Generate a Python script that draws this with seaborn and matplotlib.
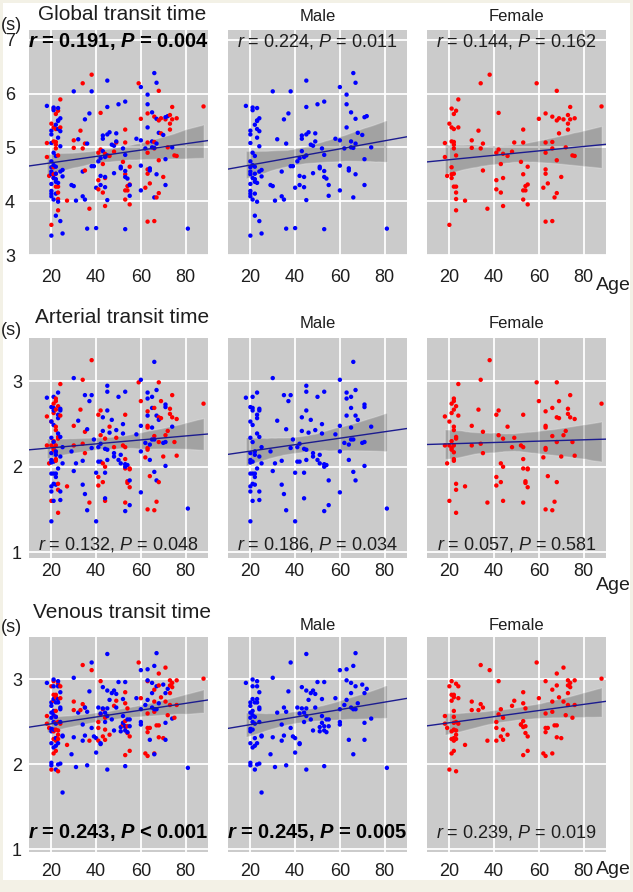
import numpy as np
import pandas as pd
import seaborn as sns
import matplotlib.pyplot as plt
from matplotlib.patches import Rectangle

# ---------------- data ----------------
# Global transit time
m1_age = [18, 21, 21, 23, 24, 23, 23, 22, 23, 24, 20, 20, 23, 20, 24, 21, 22, 20, 21, 20, 20, 20,
          22, 22, 21, 22, 22, 23, 20, 25, 24, 25, 20, 20, 20, 22, 21, 23, 22, 24, 20, 25,
          30, 38, 45, 45, 50, 53, 37, 35, 32, 36, 46, 45, 43, 43, 49, 49, 47, 48, 52,
          43, 44, 42, 45, 53, 41, 38, 39, 34, 29, 30, 42, 44, 42, 44, 40, 48, 51, 51, 53, 53, 54,
          55, 55, 34, 35, 31, 45, 36, 40, 53,
          58, 60, 63, 63, 65, 67, 71, 72, 66, 67, 63, 68, 70, 60, 65, 65, 66, 74, 62, 67, 71,
          60, 64, 64, 67, 71, 60, 66, 81]
m1_val = [5.77, 5.74, 5.69, 5.73, 5.54, 5.50, 5.49, 5.42, 5.34, 5.30, 5.31, 5.24, 5.18, 5.08, 5.02,
          4.90, 4.84, 4.74, 4.67, 4.63, 4.55, 4.50,
          4.64, 4.51, 4.43, 4.41, 4.36, 4.34, 4.32, 4.58, 4.55, 4.46, 4.19, 4.14, 4.09, 4.14, 4.03, 3.99,
          3.73, 3.63, 3.36, 3.40,
          6.04, 6.04, 6.24, 5.75, 5.80, 5.85, 5.63, 5.52, 5.15, 5.07, 5.28, 5.24, 5.22, 5.16, 5.26, 5.11,
          5.05, 5.03, 4.98,
          4.93, 4.82, 4.80, 4.85, 4.86, 4.74, 4.65, 4.65, 4.55, 4.30, 4.28, 4.47, 4.45, 4.30, 4.26, 4.25,
          4.52, 4.64, 4.61, 4.56, 4.45, 4.42,
          4.30, 4.10, 4.09, 4.03, 4.01, 4.02, 3.49, 3.50, 3.48,
          5.16, 6.12, 5.98, 5.80, 5.65, 5.53, 5.56, 5.58, 6.38, 6.20, 5.37, 5.27, 5.23, 5.13, 5.11, 5.00,
          4.99, 5.00, 4.98, 5.07, 4.78,
          4.66, 4.61, 4.57, 4.50, 4.30, 4.20, 4.07, 3.49]
f1_age = [38, 34, 59, 68, 24, 21, 23, 22, 42, 20, 21, 22, 24, 33, 53,
          60, 63, 66, 68, 69, 71, 73, 74, 73, 74, 76, 73, 69, 88,
          18, 21, 22, 22, 22, 23, 21, 19, 21, 22, 21, 18, 30, 30, 34, 35, 35,
          42, 41, 44, 46, 48, 49, 43, 53, 52, 55, 53, 63, 66, 63, 66, 72, 68, 75, 76, 63, 63, 70,
          22, 23, 23, 23, 27, 23, 20, 41, 44, 41, 43, 44, 37, 54, 55, 53, 54, 53, 55, 64, 62, 68, 67,
          63, 66]
f1_val = [6.35, 6.19, 6.19, 6.05, 5.89, 5.72, 5.68, 5.62, 5.64, 5.44, 5.37, 5.34, 5.37, 5.31, 5.33,
          5.53, 5.63, 5.57, 5.50, 5.54, 5.52, 5.60, 5.75, 5.44, 5.52, 5.54, 5.33, 5.26, 5.76,
          5.08, 5.11, 5.10, 5.05, 4.98, 4.85, 4.63, 4.47, 4.50, 4.51, 4.43, 4.82, 5.13, 4.99, 4.98, 5.07, 4.57,
          4.96, 4.90, 4.88, 4.84, 4.92, 5.09, 4.69, 5.09, 4.73, 4.64, 4.50, 5.09, 5.10, 4.90, 4.98, 5.00,
          4.76, 4.85, 4.84, 4.59, 4.51, 4.45,
          4.27, 4.27, 4.16, 4.04, 4.01, 3.83, 3.56, 4.39, 4.43, 4.22, 4.16, 3.91, 3.86, 4.28, 4.31, 4.20,
          4.20, 4.03, 3.94, 4.33, 4.25, 4.15, 4.07,
          3.62, 3.63]

# Arterial transit time
m2_age = [66, 30, 60, 18, 21, 23, 20, 21, 21, 24, 24, 23, 23, 20, 21,
          35, 38, 37, 45, 45, 50, 53, 32, 36, 43, 45, 47, 43, 46, 49, 52, 52,
          63, 63, 65, 67, 65, 71, 71, 63, 67, 68, 65, 74, 60, 58, 62, 64, 65, 66, 70, 71,
          20, 24, 23, 21, 25, 22, 20, 22, 20, 20, 21, 24, 23, 25,
          20, 21, 22, 22, 21, 22, 20, 24, 20, 21, 24, 20,
          29, 31, 30, 34, 39, 38, 41, 42, 44, 45, 42, 41, 45, 44,
          40, 34, 35, 36, 40, 44, 48, 48, 51, 50, 51, 53, 54, 53, 55, 55, 53,
          60, 64, 71, 66, 67, 60, 81]
m2_val = [3.23, 3.04, 3.02, 2.81, 2.82, 2.87, 2.70, 2.69, 2.66, 2.68, 2.66, 2.61, 2.57, 2.53, 2.49,
          2.84, 2.84, 2.77, 2.95, 2.88, 2.82, 2.88, 2.54, 2.44, 2.58, 2.66, 2.55, 2.42, 2.40, 2.43, 2.50, 2.39,
          2.87, 2.80, 2.82, 2.90, 2.69, 2.73, 2.70, 2.60, 2.60, 2.55, 2.46, 2.47, 2.48, 2.38, 2.28, 2.26,
          2.32, 2.32, 2.28, 2.29,
          2.34, 2.35, 2.39, 2.29, 2.23, 2.18, 2.16, 2.14, 2.08, 2.05, 2.06, 2.12, 1.98, 2.04,
          1.92, 1.92, 1.92, 1.88, 1.80, 1.79, 1.77, 1.71, 1.71, 1.60, 1.61, 1.36,
          2.18, 2.04, 1.95, 2.07, 2.32, 2.22, 2.23, 2.27, 2.21, 2.20, 2.06, 2.06, 2.08, 1.93,
          1.93, 1.79, 1.68, 1.49, 1.36, 1.63, 2.16, 2.12, 2.14, 2.08, 2.04, 2.03, 2.02, 2.00, 1.84, 1.55, 1.48,
          2.18, 2.08, 2.01, 1.94, 1.84, 1.70, 1.51]
f2_age = [38, 34, 59, 68, 24, 22, 22, 21, 23, 21, 22, 24, 18, 20, 22, 22,
          33, 42, 41, 46, 30, 35, 53,
          60, 63, 66, 69, 74, 73, 73, 74, 76, 68, 69, 63, 63, 72, 71, 88,
          23, 23, 21, 18, 22, 21, 21, 20, 22, 22, 22, 19, 30, 34, 35,
          42, 44, 49, 48, 52, 53, 66, 68, 63, 63, 75, 62, 70, 76,
          43, 44, 41, 43, 41, 44, 37, 53, 53, 55, 55, 54, 54, 55, 53,
          64, 68, 67, 63, 66, 23, 23, 27, 20, 23]
f2_val = [3.25, 3.02, 2.99, 2.99, 2.97, 2.80, 2.77, 2.74, 2.71, 2.63, 2.67, 2.60, 2.59, 2.53, 2.47, 2.43,
          2.67, 2.66, 2.61, 2.47, 2.48, 2.41, 2.61,
          2.77, 2.65, 2.69, 2.77, 2.84, 2.68, 2.62, 2.58, 2.56, 2.58, 2.57, 2.48, 2.46, 2.42, 2.37, 2.74,
          2.35, 2.33, 2.30, 2.25, 2.25, 2.22, 2.20, 2.25, 2.17, 2.09, 2.07, 2.04, 2.25, 2.27, 2.16,
          2.37, 2.33, 2.34, 2.23, 2.25, 2.23, 2.36, 2.29, 2.22, 2.20, 2.29, 2.11, 2.12, 2.13,
          2.04, 2.00, 1.88, 1.82, 1.78, 1.60, 1.58, 2.09, 1.98, 1.98, 1.97, 1.83, 1.81, 1.76, 1.58,
          1.89, 1.82, 1.59, 1.50, 1.49, 1.80, 1.73, 1.77, 1.60, 1.46]

# Venous transit time
m3_age = [45, 67, 38, 66, 63, 60, 18, 21, 21, 23, 23, 24, 30,
          63, 65, 67, 70, 72, 71, 65, 63, 62, 65, 66, 67, 68, 74, 71, 71, 64, 66,
          50, 53, 43, 45, 47, 49, 48, 46, 52, 58, 41, 43, 45, 49, 37,
          35, 32, 36, 34, 42, 44, 45, 44, 47, 52, 52, 53, 54, 55, 51, 55, 53, 54, 48, 51, 60, 60, 60,
          20, 20, 22, 23, 24, 24, 20, 21, 20, 22, 21, 22, 24, 20, 21, 20,
          21, 21, 23, 22, 25, 25, 20, 23, 21, 22,
          30, 34, 35, 38, 39, 40, 42, 42, 40, 29, 20, 20, 22, 23, 24, 25, 31, 36, 45, 53, 81]
m3_val = [3.30, 3.31, 3.20, 3.16, 3.12, 3.11, 2.96, 3.00, 2.92, 2.98, 2.92, 2.85, 3.02,
          2.99, 2.96, 2.92, 2.94, 2.89, 2.84, 2.84, 2.76, 2.70, 2.67, 2.65, 2.65, 2.72, 2.54, 2.49, 2.29,
          2.29, 2.12,
          2.97, 2.97, 2.91, 2.87, 2.84, 2.83, 2.87, 2.76, 2.77, 2.78, 2.67, 2.66, 2.66, 2.67, 2.86,
          2.67, 2.61, 2.62, 2.47, 2.60, 2.61, 2.57, 2.50, 2.53, 2.57, 2.49, 2.45, 2.53, 2.53, 2.44, 2.45,
          2.40, 2.38, 2.40, 2.39, 2.50, 2.47, 2.65,
          2.73, 2.69, 2.73, 2.73, 2.67, 2.65, 2.61, 2.58, 2.55, 2.56, 2.50, 2.48, 2.50, 2.42, 2.41, 2.39,
          2.77, 2.63, 2.77, 2.31, 2.34, 2.33, 2.25, 2.25, 2.20, 2.22,
          2.32, 2.28, 2.34, 2.43, 2.33, 2.31, 2.25, 2.24, 2.14, 2.12, 2.02, 1.99, 1.94, 2.00, 2.01, 1.67,
          1.97, 1.99, 1.94, 1.98, 1.96]
f3_age = [34, 38, 59, 71, 42, 63, 68, 73, 76, 88, 74, 73, 74, 68, 66, 53, 73,
          21, 20, 23, 24, 21, 22, 22, 24, 21,
          30, 34, 35, 33, 30, 42, 43, 44, 48, 49, 53, 54, 52, 53,
          60, 66, 69, 71, 73, 76, 63, 66, 72, 75,
          22, 18, 22, 23, 22, 18, 19, 23, 21, 22, 24,
          23, 22, 21, 23, 22, 27, 22, 21, 20, 23,
          41, 41, 44, 46, 43, 44, 41, 37, 52, 53, 54, 54, 55, 55, 53,
          63, 64, 67, 68, 63, 68, 70, 62, 63, 66]
f3_val = [3.17, 3.11, 3.20, 3.14, 2.98, 2.98, 3.07, 2.99, 2.99, 3.01, 2.96, 2.93, 2.91, 2.93, 2.88, 2.85, 2.84,
          2.98, 2.92, 2.95, 2.92, 2.82, 2.82, 2.79, 2.78, 2.75,
          2.74, 2.71, 2.67, 2.64, 2.64, 2.59, 2.65, 2.55, 2.69, 2.75, 2.72, 2.66, 2.47, 2.51,
          2.78, 2.74, 2.79, 2.74, 2.70, 2.70, 2.60, 2.62, 2.58, 2.55,
          2.63, 2.57, 2.56, 2.50, 2.49, 2.48, 2.43, 2.40, 2.39, 2.41, 2.48,
          2.35, 2.31, 2.30, 2.30, 2.28, 2.23, 2.16, 2.13, 1.94, 1.92,
          2.50, 2.43, 2.41, 2.35, 2.33, 2.29, 2.28, 2.28, 2.47, 2.44, 2.45, 2.37, 2.33, 2.16, 2.11,
          2.43, 2.43, 2.46, 2.46, 2.38, 2.32, 2.31, 2.13, 2.10, 2.13]

row_titles = ["Global transit time", "Arterial transit time", "Venous transit time"]
col_titles = ["", "Male", "Female"]
stats = [["r = 0.191, P = 0.004", "r = 0.224, P = 0.011", "r = 0.144, P = 0.162"],
         ["r = 0.132, P = 0.048", "r = 0.186, P = 0.034", "r = 0.057, P = 0.581"],
         ["r = 0.243, P < 0.001", "r = 0.245, P = 0.005", "r = 0.239, P = 0.019"]]
bold = [[True, False, False], [False, False, False], [True, True, False]]
age_ticks = [20, 40, 60, 80]

# ---------------- style ----------------
sns.set_style("darkgrid", {"axes.facecolor": "#cbcbcb", "grid.color": "white"})
plt.rcParams["font.family"] = ["Liberation Sans", "DejaVu Sans"]
plt.rcParams["mathtext.fontset"] = "custom"
plt.rcParams["mathtext.rm"] = "Liberation Sans"
plt.rcParams["mathtext.it"] = "Liberation Sans:italic"
plt.rcParams["mathtext.bf"] = "Liberation Sans:bold"
plt.rcParams["mathtext.bfit"] = "Liberation Sans:italic:bold"

txt = "#1e1e1e"
palette = {"M": "#0000ff", "F": "#ff0000"}

W, H = 633, 892
fig = plt.figure(figsize=(W / 100, H / 100), dpi=100)
fig.patch.set_facecolor("#f3f1e6")
fig.add_artist(Rectangle((3 / W, 12 / H), 627 / W, 877 / H, transform=fig.transFigure,
                         facecolor="white", edgecolor="none", zorder=-5))

# panel boxes in pixels: (top, bottom) per row, left per column
rows_px = [(30, 255), (338, 558), (637, 852)]
cols_px = [29, 228, 427]
pw = 179
ylims = [(3, 7.18), (0.93, 3.51), (0.97, 3.5)]
yticks = [[3, 4, 5, 6, 7], [1, 2, 3], [1, 2, 3]]
xpads = [10, 3.5, 8]
ypads = [10, 5, 5]
stat_y = [0.947, 0.06, 0.093]
title_dy = [15.5, 20.5, 24.5]
sub_dy = [13.5, 15, 12]
unit_y = [25, 330, 628]
age_y = [285, 585, 869]

data = [(m1_age, m1_val, f1_age, f1_val),
        (m2_age, m2_val, f2_age, f2_val),
        (m3_age, m3_val, f3_age, f3_val)]

for r, (ma, mv, fa, fv) in enumerate(data):
    male = pd.DataFrame({"age": ma, "value": mv, "sex": "M"})
    female = pd.DataFrame({"age": fa, "value": fv, "sex": "F"})
    both = pd.concat([female, male], ignore_index=True).sort_values("age", kind="stable")
    top, bot = rows_px[r]
    for c, df in enumerate([both, male, female]):
        ax = fig.add_axes([cols_px[c] / W, 1 - bot / H, pw / W, (bot - top) / H])
        ax.set_xlim(10, 90)
        ax.set_ylim(*ylims[r])
        sns.scatterplot(data=df, x="age", y="value", hue="sex", palette=palette, s=10,
                        linewidth=0, legend=False, ax=ax, zorder=3)
        # confidence band over the data range only
        sns.regplot(data=df, x="age", y="value", scatter=False, truncate=True, color="black",
                    ci=99, seed=3, line_kws={"lw": 0}, ax=ax)
        ax.collections[-1].set_alpha(0.2)
        # fitted line across the whole axis
        sns.regplot(data=df, x="age", y="value", scatter=False, truncate=False, ci=None,
                    color="#1c1c8f", line_kws={"lw": 1.0, "zorder": 4}, ax=ax)
        ax.set_xlim(10, 90)
        ax.set_ylim(*ylims[r])
        ax.set_xticks(age_ticks)
        ax.set_yticks(yticks[r])
        ax.grid(True, color="white", lw=1.3)
        ax.set_xlabel("")
        ax.set_ylabel("")
        ax.tick_params(axis="x", length=0, pad=xpads[r], labelsize=13, labelcolor=txt)
        ax.tick_params(axis="y", length=0, pad=ypads[r], labelsize=13, labelcolor=txt)
        if c > 0:
            ax.set_yticklabels([])
        for sp in ax.spines.values():
            sp.set_visible(False)

        s = stats[r][c]
        if bold[r][c]:
            s = s.replace("r =", r"$\mathbfit{r}$ =").replace("P ", r"$\mathbfit{P}$ ")
            ax.text(0.5, stat_y[r], s, transform=ax.transAxes, ha="center", va="center",
                    fontsize=14.5, fontweight="bold", color="black", zorder=6)
        else:
            s = s.replace("r =", r"$\it{r}$ =").replace("P ", r"$\it{P}$ ")
            ax.text(0.5, stat_y[r], s, transform=ax.transAxes, ha="center", va="center",
                    fontsize=13, color=txt, zorder=6)

        h = bot - top
        if c == 0:
            ax.text(0.52, 1 + title_dy[r] / h, row_titles[r], transform=ax.transAxes,
                    ha="center", va="center", fontsize=15, color=txt)
        else:
            ax.text(0.5, 1 + sub_dy[r] / h, col_titles[c], transform=ax.transAxes,
                    ha="center", va="center", fontsize=12, color=txt)

    fig.text(11 / W, 1 - unit_y[r] / H, "(s)", ha="center", va="center", fontsize=13, color=txt)
    fig.text(631 / W, 1 - age_y[r] / H, "Age", ha="right", va="center", fontsize=14, color=txt)

fig.savefig("out.png", dpi=100, facecolor=fig.get_facecolor())
